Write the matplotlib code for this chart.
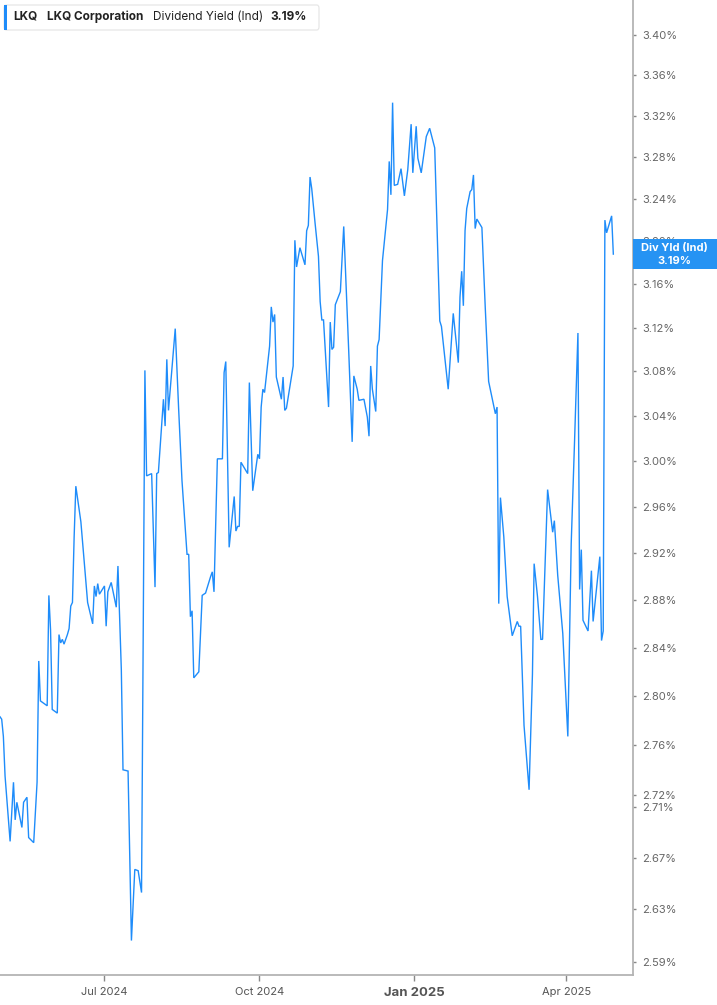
import matplotlib
matplotlib.use("Agg")
import matplotlib.pyplot as plt
import matplotlib.ticker as mticker
from matplotlib.patches import Rectangle, FancyBboxPatch
import matplotlib.dates as mdates
import pandas as pd

plt.rcParams['font.family'] = ['Inter', 'DejaVu Sans']

# ---------------- data ----------------
dates = [
    "2024-04-30", "2024-05-01", "2024-05-02", "2024-05-03", "2024-05-06", "2024-05-08",
    "2024-05-09", "2024-05-10", "2024-05-13", "2024-05-14", "2024-05-16", "2024-05-17",
    "2024-05-20", "2024-05-22", "2024-05-23", "2024-05-24", "2024-05-28", "2024-05-29",
    "2024-05-30", "2024-05-31", "2024-06-03", "2024-06-04", "2024-06-05", "2024-06-06",
    "2024-06-07", "2024-06-09", "2024-06-10", "2024-06-11", "2024-06-12", "2024-06-13",
    "2024-06-14", "2024-06-17", "2024-06-20", "2024-06-21", "2024-06-24", "2024-06-25",
    "2024-06-26", "2024-06-27", "2024-06-28", "2024-07-01", "2024-07-02", "2024-07-03",
    "2024-07-05", "2024-07-08", "2024-07-09", "2024-07-11", "2024-07-12", "2024-07-15",
    "2024-07-17", "2024-07-19", "2024-07-21", "2024-07-23", "2024-07-25", "2024-07-26",
    "2024-07-29", "2024-07-31", "2024-08-01", "2024-08-02", "2024-08-05", "2024-08-06",
    "2024-08-07", "2024-08-08", "2024-08-12", "2024-08-14", "2024-08-16", "2024-08-18",
    "2024-08-19", "2024-08-20", "2024-08-21", "2024-08-22", "2024-08-23", "2024-08-26",
    "2024-08-28", "2024-08-30", "2024-09-02", "2024-09-03", "2024-09-04", "2024-09-06",
    "2024-09-09", "2024-09-10", "2024-09-11", "2024-09-13", "2024-09-16", "2024-09-17",
    "2024-09-18", "2024-09-19", "2024-09-20", "2024-09-24", "2024-09-25", "2024-09-27",
    "2024-09-30", "2024-10-01", "2024-10-02", "2024-10-03", "2024-10-04", "2024-10-07",
    "2024-10-08", "2024-10-09", "2024-10-10", "2024-10-11", "2024-10-14", "2024-10-15",
    "2024-10-16", "2024-10-17", "2024-10-19", "2024-10-21", "2024-10-22", "2024-10-23",
    "2024-10-25", "2024-10-28", "2024-10-29", "2024-10-30", "2024-10-31", "2024-11-01",
    "2024-11-03", "2024-11-05", "2024-11-06", "2024-11-07", "2024-11-08", "2024-11-11",
    "2024-11-12", "2024-11-13", "2024-11-14", "2024-11-15", "2024-11-18", "2024-11-20",
    "2024-11-23", "2024-11-25", "2024-11-26", "2024-11-28", "2024-11-29", "2024-12-02",
    "2024-12-04", "2024-12-05", "2024-12-06", "2024-12-07", "2024-12-09", "2024-12-10",
    "2024-12-11", "2024-12-13", "2024-12-16", "2024-12-17", "2024-12-18", "2024-12-19",
    "2024-12-20", "2024-12-22", "2024-12-24", "2024-12-26", "2024-12-28", "2024-12-30",
    "2024-12-31", "2025-01-02", "2025-01-03", "2025-01-05", "2025-01-08", "2025-01-10",
    "2025-01-13", "2025-01-16", "2025-01-17", "2025-01-21", "2025-01-24", "2025-01-27",
    "2025-01-28", "2025-01-29", "2025-01-30", "2025-01-31", "2025-02-01", "2025-02-03",
    "2025-02-04", "2025-02-05", "2025-02-06", "2025-02-07", "2025-02-10", "2025-02-12",
    "2025-02-14", "2025-02-18", "2025-02-19", "2025-02-20", "2025-02-21", "2025-02-23",
    "2025-02-25", "2025-02-28", "2025-03-03", "2025-03-04", "2025-03-05", "2025-03-07",
    "2025-03-10", "2025-03-12", "2025-03-13", "2025-03-15", "2025-03-17", "2025-03-18",
    "2025-03-21", "2025-03-24", "2025-03-25", "2025-03-27", "2025-03-30", "2025-04-02",
    "2025-04-04", "2025-04-06", "2025-04-08", "2025-04-09", "2025-04-10", "2025-04-11",
    "2025-04-14", "2025-04-16", "2025-04-17", "2025-04-21", "2025-04-22", "2025-04-23",
    "2025-04-24", "2025-04-25", "2025-04-28", "2025-04-29",
]

div_yield = [
    2.783, 2.781, 2.767, 2.735, 2.683, 2.730,
    2.700, 2.714, 2.694, 2.714, 2.718, 2.686,
    2.682, 2.730, 2.829, 2.796, 2.792, 2.884,
    2.855, 2.789, 2.786, 2.851, 2.844, 2.847,
    2.843, 2.851, 2.856, 2.875, 2.878, 2.934,
    2.978, 2.947, 2.895, 2.878, 2.860, 2.892,
    2.883, 2.894, 2.885, 2.892, 2.858, 2.887,
    2.895, 2.874, 2.909, 2.822, 2.740, 2.739,
    2.606, 2.661, 2.660, 2.643, 3.081, 2.987,
    2.989, 2.891, 2.989, 2.990, 3.055, 3.031,
    3.091, 3.045, 3.119, 3.047, 2.983, 2.941,
    2.919, 2.919, 2.866, 2.871, 2.815, 2.820,
    2.884, 2.886, 2.900, 2.904, 2.887, 3.002,
    3.002, 3.079, 3.089, 2.925, 2.969, 2.939,
    2.943, 2.943, 2.999, 2.989, 3.070, 2.974,
    3.006, 3.002, 3.048, 3.064, 3.061, 3.103,
    3.139, 3.125, 3.132, 3.075, 3.055, 3.075,
    3.045, 3.047, 3.066, 3.085, 3.201, 3.176,
    3.194, 3.178, 3.210, 3.215, 3.261, 3.250,
    3.217, 3.186, 3.144, 3.127, 3.127, 3.048,
    3.125, 3.100, 3.102, 3.141, 3.153, 3.214,
    3.097, 3.017, 3.076, 3.064, 3.054, 3.055,
    3.039, 3.022, 3.085, 3.064, 3.044, 3.103,
    3.109, 3.182, 3.230, 3.276, 3.244, 3.333,
    3.253, 3.254, 3.269, 3.243, 3.268, 3.312,
    3.265, 3.310, 3.279, 3.265, 3.300, 3.308,
    3.289, 3.126, 3.121, 3.064, 3.133, 3.088,
    3.148, 3.172, 3.140, 3.210, 3.231, 3.247,
    3.249, 3.263, 3.212, 3.221, 3.213, 3.138,
    3.071, 3.042, 3.048, 2.877, 2.968, 2.934,
    2.883, 2.850, 2.862, 2.858, 2.858, 2.776,
    2.724, 2.818, 2.911, 2.883, 2.847, 2.847,
    2.975, 2.938, 2.948, 2.901, 2.852, 2.767,
    2.928, 3.018, 3.115, 2.889, 2.923, 2.863,
    2.854, 2.905, 2.862, 2.917, 2.846, 2.854,
    3.220, 3.208, 3.224, 3.188,
]

ytick_values = [2.59, 2.63, 2.67, 2.71, 2.72, 2.76, 2.80, 2.84, 2.88, 2.92, 2.96,
                3.00, 3.04, 3.08, 3.12, 3.16, 3.20, 3.24, 3.28, 3.32, 3.36, 3.40]
xtick_dates = ["2024-07-01", "2024-10-01", "2025-01-01", "2025-04-01"]
xtick_labels = ["Jul 2024", "Oct 2024", "Jan 2025", "Apr 2025"]

symbol = "LKQ"
company = "LKQ Corporation"
metric = "Dividend Yield (Ind)"
box_title = "Div Yld (Ind)"

LINE = "#1E8CFA"
BOX = "#2693F3"

# ---------------- figure ----------------
W, H = 717, 1005
fig = plt.figure(figsize=(W / 100, H / 100), dpi=100)
fig.patch.set_facecolor("white")

ax_bottom_px = 974.7
ax_right_px = 632.7
ax = fig.add_axes([0, 1 - ax_bottom_px / H, ax_right_px / W, ax_bottom_px / H])
ax.set_facecolor("white")

x = pd.to_datetime(dates)
ax.plot(x, div_yield, color=LINE, lw=1.0, solid_joinstyle="miter")

ax.set_yscale("log")
ax.set_ylim(2.580, 3.435)
ax.set_xlim(pd.Timestamp("2024-04-30"), pd.Timestamp("2025-05-10 12:00"))

ax.yaxis.tick_right()
ax.yaxis.set_major_locator(mticker.FixedLocator(ytick_values))
ax.yaxis.set_minor_locator(mticker.NullLocator())
ax.yaxis.set_major_formatter(mticker.FuncFormatter(lambda v, _: f"{v:.2f}%"))
ax.yaxis.set_minor_formatter(mticker.NullFormatter())

ax.set_xticks(pd.to_datetime(xtick_dates))
ax.set_xticklabels(xtick_labels)
ax.xaxis.set_minor_locator(mticker.NullLocator())

for s in ["left", "top"]:
    ax.spines[s].set_visible(False)
for s in ["right", "bottom"]:
    ax.spines[s].set_color("#b4b4b4")
    ax.spines[s].set_linewidth(1.3)

ax.tick_params(axis="y", which="major", length=2.5, width=1, color="#888888",
               pad=4.5, labelsize=8, labelcolor="#666666", direction="out")
ax.tick_params(axis="x", which="major", length=4.5, width=1, color="#888888",
               pad=4, labelsize=8, labelcolor="#555555", direction="out")
for lab in ax.get_xticklabels():
    if lab.get_text() == "Jan 2025":
        lab.set_fontweight("bold")
        lab.set_fontsize(9.5)
        lab.set_color("#555555")

# ---------------- last value box ----------------
last_disp = ax.transData.transform((mdates.date2num(x[-1]), div_yield[-1]))
yc = last_disp[1] / H
bh = 30 / H
fig.patches.append(Rectangle((633 / W, yc - bh / 2), 1 - 633 / W, bh,
                             transform=fig.transFigure, facecolor=BOX,
                             edgecolor="none", zorder=5))
fig.text(674 / W, yc + 6.5 / H, box_title, ha="center", va="center",
         color="white", fontsize=8, fontweight="bold", zorder=6)
fig.text(674 / W, yc - 6.5 / H, f"{div_yield[-1]:.2f}%", ha="center", va="center",
         color="white", fontsize=8, fontweight="bold", zorder=6)

# ---------------- header legend ----------------
fig.patches.append(FancyBboxPatch((4 / W, 1 - 30 / H), 315 / W, 25 / H,
                                  boxstyle="round,pad=0,rounding_size=0.003",
                                  transform=fig.transFigure, facecolor="white",
                                  edgecolor="#e4e4e4", lw=0.8, zorder=5))
fig.patches.append(Rectangle((4 / W, 1 - 30 / H), 3 / W, 25 / H,
                             transform=fig.transFigure, facecolor=LINE,
                             edgecolor="none", zorder=6))
ty = 1 - 17 / H
fig.text(13 / W, ty, symbol, ha="left", va="center", fontsize=8.5,
         fontweight="bold", color="#222222", zorder=7)
fig.text(47 / W, ty, company, ha="left", va="center", fontsize=8.5,
         fontweight="bold", color="#222222", zorder=7)
fig.text(153 / W, ty, metric, ha="left", va="center", fontsize=8.5,
         color="#222222", zorder=7)
fig.text(270 / W, ty, f"{div_yield[-1]:.2f}%", ha="left", va="center", fontsize=8.5,
         fontweight="bold", color="#222222", zorder=7)

fig.savefig("out.png", dpi=100)
